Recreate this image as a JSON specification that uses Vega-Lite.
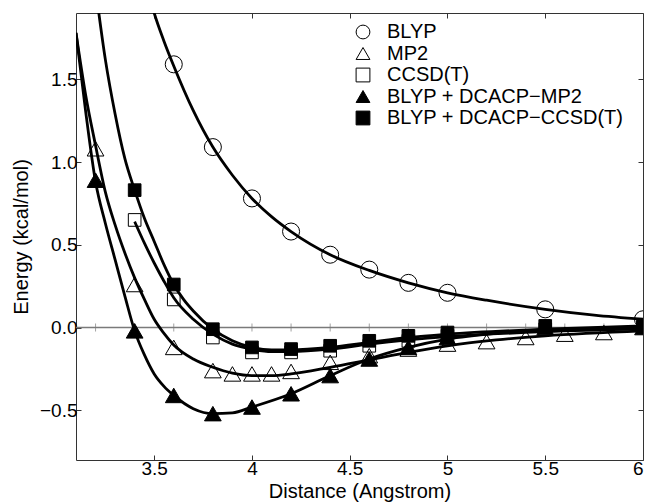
{
  "$schema": "https://vega.github.io/schema/vega-lite/v6.json",
  "width": 567,
  "height": 447,
  "autosize": {"type": "none"},
  "padding": {"left": 76, "top": 13, "right": 7, "bottom": 44},
  "background": "white",
  "config": {
    "font": "Liberation Sans",
    "view": {"stroke": "#333333", "strokeWidth": 1},
    "axis": {"grid": false, "domain": false, "tickColor": "#333333", "labelColor": "black", "titleColor": "black", "labelFontSize": 19, "titleFontSize": 20, "titleFontWeight": "normal"}
  },
  "datasets": {
    "markers": [
      {"series": "BLYP", "d": 3.6, "E": 1.59}, {"series": "BLYP", "d": 3.8, "E": 1.09}, {"series": "BLYP", "d": 4.0, "E": 0.78}, {"series": "BLYP", "d": 4.2, "E": 0.58}, {"series": "BLYP", "d": 4.4, "E": 0.44}, {"series": "BLYP", "d": 4.6, "E": 0.35}, {"series": "BLYP", "d": 4.8, "E": 0.27}, {"series": "BLYP", "d": 5.0, "E": 0.21}, {"series": "BLYP", "d": 5.5, "E": 0.11}, {"series": "BLYP", "d": 6.0, "E": 0.05},
      {"series": "MP2", "d": 3.2, "E": 1.08}, {"series": "MP2", "d": 3.4, "E": 0.26}, {"series": "MP2", "d": 3.6, "E": -0.12}, {"series": "MP2", "d": 3.8, "E": -0.26}, {"series": "MP2", "d": 3.9, "E": -0.28}, {"series": "MP2", "d": 4.0, "E": -0.28}, {"series": "MP2", "d": 4.1, "E": -0.28}, {"series": "MP2", "d": 4.2, "E": -0.265}, {"series": "MP2", "d": 4.4, "E": -0.21}, {"series": "MP2", "d": 4.6, "E": -0.17}, {"series": "MP2", "d": 4.8, "E": -0.13}, {"series": "MP2", "d": 5.0, "E": -0.1}, {"series": "MP2", "d": 5.2, "E": -0.085}, {"series": "MP2", "d": 5.4, "E": -0.06}, {"series": "MP2", "d": 5.6, "E": -0.04}, {"series": "MP2", "d": 5.8, "E": -0.03},
      {"series": "CCSD(T)", "d": 3.4, "E": 0.65}, {"series": "CCSD(T)", "d": 3.6, "E": 0.17}, {"series": "CCSD(T)", "d": 3.8, "E": -0.06}, {"series": "CCSD(T)", "d": 4.0, "E": -0.15}, {"series": "CCSD(T)", "d": 4.2, "E": -0.15}, {"series": "CCSD(T)", "d": 4.4, "E": -0.14}, {"series": "CCSD(T)", "d": 4.6, "E": -0.11}, {"series": "CCSD(T)", "d": 4.8, "E": -0.08}, {"series": "CCSD(T)", "d": 5.0, "E": -0.05}, {"series": "CCSD(T)", "d": 5.5, "E": -0.01}, {"series": "CCSD(T)", "d": 6.0, "E": 0.0},
      {"series": "BLYP + DCACP−MP2", "d": 3.2, "E": 0.89}, {"series": "BLYP + DCACP−MP2", "d": 3.4, "E": -0.02}, {"series": "BLYP + DCACP−MP2", "d": 3.6, "E": -0.41}, {"series": "BLYP + DCACP−MP2", "d": 3.8, "E": -0.52}, {"series": "BLYP + DCACP−MP2", "d": 4.0, "E": -0.48}, {"series": "BLYP + DCACP−MP2", "d": 4.2, "E": -0.4}, {"series": "BLYP + DCACP−MP2", "d": 4.4, "E": -0.29}, {"series": "BLYP + DCACP−MP2", "d": 4.6, "E": -0.19}, {"series": "BLYP + DCACP−MP2", "d": 4.8, "E": -0.12}, {"series": "BLYP + DCACP−MP2", "d": 5.0, "E": -0.06}, {"series": "BLYP + DCACP−MP2", "d": 5.5, "E": 0.0}, {"series": "BLYP + DCACP−MP2", "d": 6.0, "E": 0.0},
      {"series": "BLYP + DCACP−CCSD(T)", "d": 3.4, "E": 0.83}, {"series": "BLYP + DCACP−CCSD(T)", "d": 3.6, "E": 0.26}, {"series": "BLYP + DCACP−CCSD(T)", "d": 3.8, "E": -0.01}, {"series": "BLYP + DCACP−CCSD(T)", "d": 4.0, "E": -0.12}, {"series": "BLYP + DCACP−CCSD(T)", "d": 4.2, "E": -0.13}, {"series": "BLYP + DCACP−CCSD(T)", "d": 4.4, "E": -0.11}, {"series": "BLYP + DCACP−CCSD(T)", "d": 4.6, "E": -0.08}, {"series": "BLYP + DCACP−CCSD(T)", "d": 4.8, "E": -0.05}, {"series": "BLYP + DCACP−CCSD(T)", "d": 5.0, "E": -0.03}, {"series": "BLYP + DCACP−CCSD(T)", "d": 5.5, "E": 0.01}, {"series": "BLYP + DCACP−CCSD(T)", "d": 6.0, "E": 0.01}
    ],
    "curves": [
      {"series": "BLYP", "d": 3.45, "E": 2.12}, {"series": "BLYP", "d": 3.5, "E": 1.9}, {"series": "BLYP", "d": 3.55, "E": 1.73}, {"series": "BLYP", "d": 3.6, "E": 1.58}, {"series": "BLYP", "d": 3.7, "E": 1.31}, {"series": "BLYP", "d": 3.8, "E": 1.09}, {"series": "BLYP", "d": 3.9, "E": 0.92}, {"series": "BLYP", "d": 4.0, "E": 0.78}, {"series": "BLYP", "d": 4.1, "E": 0.67}, {"series": "BLYP", "d": 4.2, "E": 0.58}, {"series": "BLYP", "d": 4.4, "E": 0.44}, {"series": "BLYP", "d": 4.6, "E": 0.345}, {"series": "BLYP", "d": 4.8, "E": 0.27}, {"series": "BLYP", "d": 5.0, "E": 0.21}, {"series": "BLYP", "d": 5.2, "E": 0.165}, {"series": "BLYP", "d": 5.5, "E": 0.11}, {"series": "BLYP", "d": 5.75, "E": 0.075}, {"series": "BLYP", "d": 6.0, "E": 0.05},
      {"series": "MP2", "d": 3.1, "E": 1.78}, {"series": "MP2", "d": 3.15, "E": 1.4}, {"series": "MP2", "d": 3.2, "E": 1.1}, {"series": "MP2", "d": 3.25, "E": 0.82}, {"series": "MP2", "d": 3.3, "E": 0.62}, {"series": "MP2", "d": 3.35, "E": 0.45}, {"series": "MP2", "d": 3.4, "E": 0.3}, {"series": "MP2", "d": 3.45, "E": 0.17}, {"series": "MP2", "d": 3.5, "E": 0.05}, {"series": "MP2", "d": 3.55, "E": -0.035}, {"series": "MP2", "d": 3.6, "E": -0.105}, {"series": "MP2", "d": 3.7, "E": -0.19}, {"series": "MP2", "d": 3.8, "E": -0.24}, {"series": "MP2", "d": 3.9, "E": -0.275}, {"series": "MP2", "d": 4.0, "E": -0.29}, {"series": "MP2", "d": 4.1, "E": -0.29}, {"series": "MP2", "d": 4.2, "E": -0.28}, {"series": "MP2", "d": 4.4, "E": -0.24}, {"series": "MP2", "d": 4.6, "E": -0.195}, {"series": "MP2", "d": 4.8, "E": -0.15}, {"series": "MP2", "d": 5.0, "E": -0.11}, {"series": "MP2", "d": 5.25, "E": -0.075}, {"series": "MP2", "d": 5.5, "E": -0.05}, {"series": "MP2", "d": 6.0, "E": -0.02},
      {"series": "CCSD(T)", "d": 3.4, "E": 0.64}, {"series": "CCSD(T)", "d": 3.45, "E": 0.51}, {"series": "CCSD(T)", "d": 3.5, "E": 0.39}, {"series": "CCSD(T)", "d": 3.55, "E": 0.28}, {"series": "CCSD(T)", "d": 3.6, "E": 0.18}, {"series": "CCSD(T)", "d": 3.7, "E": 0.05}, {"series": "CCSD(T)", "d": 3.8, "E": -0.04}, {"series": "CCSD(T)", "d": 3.9, "E": -0.1}, {"series": "CCSD(T)", "d": 4.0, "E": -0.13}, {"series": "CCSD(T)", "d": 4.1, "E": -0.145}, {"series": "CCSD(T)", "d": 4.2, "E": -0.145}, {"series": "CCSD(T)", "d": 4.4, "E": -0.13}, {"series": "CCSD(T)", "d": 4.6, "E": -0.1}, {"series": "CCSD(T)", "d": 4.8, "E": -0.075}, {"series": "CCSD(T)", "d": 5.0, "E": -0.055}, {"series": "CCSD(T)", "d": 5.5, "E": -0.025}, {"series": "CCSD(T)", "d": 6.0, "E": -0.01},
      {"series": "BLYP + DCACP−MP2", "d": 3.1, "E": 1.78}, {"series": "BLYP + DCACP−MP2", "d": 3.15, "E": 1.3}, {"series": "BLYP + DCACP−MP2", "d": 3.2, "E": 0.88}, {"series": "BLYP + DCACP−MP2", "d": 3.25, "E": 0.63}, {"series": "BLYP + DCACP−MP2", "d": 3.3, "E": 0.41}, {"series": "BLYP + DCACP−MP2", "d": 3.35, "E": 0.19}, {"series": "BLYP + DCACP−MP2", "d": 3.4, "E": -0.02}, {"series": "BLYP + DCACP−MP2", "d": 3.45, "E": -0.165}, {"series": "BLYP + DCACP−MP2", "d": 3.5, "E": -0.28}, {"series": "BLYP + DCACP−MP2", "d": 3.55, "E": -0.355}, {"series": "BLYP + DCACP−MP2", "d": 3.6, "E": -0.41}, {"series": "BLYP + DCACP−MP2", "d": 3.7, "E": -0.49}, {"series": "BLYP + DCACP−MP2", "d": 3.8, "E": -0.52}, {"series": "BLYP + DCACP−MP2", "d": 3.9, "E": -0.515}, {"series": "BLYP + DCACP−MP2", "d": 4.0, "E": -0.48}, {"series": "BLYP + DCACP−MP2", "d": 4.2, "E": -0.4}, {"series": "BLYP + DCACP−MP2", "d": 4.4, "E": -0.29}, {"series": "BLYP + DCACP−MP2", "d": 4.6, "E": -0.19}, {"series": "BLYP + DCACP−MP2", "d": 4.8, "E": -0.12}, {"series": "BLYP + DCACP−MP2", "d": 5.0, "E": -0.07}, {"series": "BLYP + DCACP−MP2", "d": 5.25, "E": -0.035}, {"series": "BLYP + DCACP−MP2", "d": 5.5, "E": -0.015}, {"series": "BLYP + DCACP−MP2", "d": 6.0, "E": 0.0},
      {"series": "BLYP + DCACP−CCSD(T)", "d": 3.2, "E": 2.05}, {"series": "BLYP + DCACP−CCSD(T)", "d": 3.25, "E": 1.62}, {"series": "BLYP + DCACP−CCSD(T)", "d": 3.3, "E": 1.29}, {"series": "BLYP + DCACP−CCSD(T)", "d": 3.35, "E": 1.02}, {"series": "BLYP + DCACP−CCSD(T)", "d": 3.4, "E": 0.83}, {"series": "BLYP + DCACP−CCSD(T)", "d": 3.45, "E": 0.66}, {"series": "BLYP + DCACP−CCSD(T)", "d": 3.5, "E": 0.52}, {"series": "BLYP + DCACP−CCSD(T)", "d": 3.55, "E": 0.38}, {"series": "BLYP + DCACP−CCSD(T)", "d": 3.6, "E": 0.26}, {"series": "BLYP + DCACP−CCSD(T)", "d": 3.65, "E": 0.17}, {"series": "BLYP + DCACP−CCSD(T)", "d": 3.7, "E": 0.1}, {"series": "BLYP + DCACP−CCSD(T)", "d": 3.8, "E": -0.01}, {"series": "BLYP + DCACP−CCSD(T)", "d": 3.9, "E": -0.08}, {"series": "BLYP + DCACP−CCSD(T)", "d": 4.0, "E": -0.12}, {"series": "BLYP + DCACP−CCSD(T)", "d": 4.1, "E": -0.135}, {"series": "BLYP + DCACP−CCSD(T)", "d": 4.2, "E": -0.135}, {"series": "BLYP + DCACP−CCSD(T)", "d": 4.4, "E": -0.12}, {"series": "BLYP + DCACP−CCSD(T)", "d": 4.6, "E": -0.09}, {"series": "BLYP + DCACP−CCSD(T)", "d": 4.8, "E": -0.06}, {"series": "BLYP + DCACP−CCSD(T)", "d": 5.0, "E": -0.04}, {"series": "BLYP + DCACP−CCSD(T)", "d": 5.5, "E": -0.01}, {"series": "BLYP + DCACP−CCSD(T)", "d": 6.0, "E": 0.01}
    ],
    "zeroticks": [
      {"d": 3.2, "E": 0}, {"d": 3.4, "E": 0}, {"d": 3.6, "E": 0}, {"d": 3.8, "E": 0}, {"d": 4.0, "E": 0}, {"d": 4.2, "E": 0}, {"d": 4.4, "E": 0}, {"d": 4.6, "E": 0}, {"d": 4.8, "E": 0}, {"d": 5.0, "E": 0}, {"d": 5.2, "E": 0}, {"d": 5.4, "E": 0}, {"d": 5.6, "E": 0}, {"d": 5.8, "E": 0}
    ]
  },
  "resolve": {"axis": {"x": "independent", "y": "independent"}},
  "layer": [
    {
      "data": {"values": [{"E": 0}]},
      "mark": {"type": "rule", "color": "#7a7a7a", "strokeWidth": 1.5},
      "encoding": {
        "y": {"field": "E", "type": "quantitative", "scale": {"domain": [-0.8, 1.9], "nice": false, "zero": false}, "axis": null}
      }
    },
    {
      "data": {"name": "zeroticks"},
      "mark": {"type": "tick", "orient": "vertical", "color": "#7a7a7a", "size": 8, "thickness": 1},
      "encoding": {
        "x": {"field": "d", "type": "quantitative", "scale": {"domain": [3.1, 6.0], "nice": false, "zero": false},
              "axis": {"orient": "top", "labels": false, "title": null, "values": [3.5, 4, 4.5, 5, 5.5, 6], "tickSize": -5}},
        "y": {"field": "E", "type": "quantitative", "scale": {"domain": [-0.8, 1.9], "nice": false, "zero": false},
              "axis": {"orient": "right", "labels": false, "title": null, "values": [-0.5, 0, 0.5, 1, 1.5], "tickSize": -5}}
      }
    },
    {
      "data": {"name": "curves"},
      "mark": {"type": "line", "color": "black", "strokeWidth": 2.8, "interpolate": "monotone", "clip": true},
      "encoding": {
        "x": {"field": "d", "type": "quantitative", "scale": {"domain": [3.1, 6.0], "nice": false, "zero": false},
              "axis": {"orient": "bottom", "title": "Distance (Angstrom)", "values": [3.5, 4, 4.5, 5, 5.5, 6], "format": "~g", "tickSize": -5, "labelPadding": 4, "titlePadding": 3}},
        "y": {"field": "E", "type": "quantitative", "scale": {"domain": [-0.8, 1.9], "nice": false, "zero": false},
              "axis": {"orient": "left", "title": "Energy (kcal/mol)", "values": [-0.5, 0, 0.5, 1, 1.5], "format": ".1f", "tickSize": -5, "labelPadding": 4, "titlePadding": 8}},
        "detail": {"field": "series"}
      }
    },
    {
      "data": {"name": "markers"},
      "transform": [{"filter": {"field": "series", "oneOf": ["BLYP"]}}],
      "mark": {"type": "point", "filled": true, "stroke": "black", "strokeWidth": 1, "opacity": 1, "size": 290, "clip": true},
      "encoding": {
        "x": {"field": "d", "type": "quantitative", "axis": null},
        "y": {"field": "E", "type": "quantitative", "axis": null},
        "shape": {"field": "series", "type": "nominal", "scale": {"domain": ["BLYP", "MP2", "CCSD(T)", "BLYP + DCACP−MP2", "BLYP + DCACP−CCSD(T)"], "range": ["circle", "triangle-up", "square", "triangle-up", "square"]}, "title": null},
        "fill": {"field": "series", "type": "nominal", "scale": {"domain": ["BLYP", "MP2", "CCSD(T)", "BLYP + DCACP−MP2", "BLYP + DCACP−CCSD(T)"], "range": ["transparent", "transparent", "transparent", "black", "black"]}, "title": null,
                 "legend": {"orient": "none", "legendX": 277, "legendY": 9, "symbolSize": 190, "symbolStrokeColor": "black", "symbolStrokeWidth": 1, "labelFontSize": 20, "labelColor": "black", "labelOffset": 14, "rowPadding": 1.5, "labelLimit": 400}}
      }
    },
    {
      "data": {"name": "markers"},
      "transform": [{"filter": {"field": "series", "oneOf": ["MP2", "BLYP + DCACP−MP2"]}}],
      "mark": {"type": "point", "filled": true, "stroke": "black", "strokeWidth": 1, "opacity": 1, "size": 280, "clip": true},
      "encoding": {
        "x": {"field": "d", "type": "quantitative", "axis": null},
        "y": {"field": "E", "type": "quantitative", "axis": null},
        "shape": {"field": "series", "type": "nominal", "title": null},
        "fill": {"field": "series", "type": "nominal", "title": null}
      }
    },
    {
      "data": {"name": "markers"},
      "transform": [{"filter": {"field": "series", "oneOf": ["CCSD(T)", "BLYP + DCACP−CCSD(T)"]}}],
      "mark": {"type": "point", "filled": true, "stroke": "black", "strokeWidth": 1, "opacity": 1, "size": 160, "clip": true},
      "encoding": {
        "x": {"field": "d", "type": "quantitative", "axis": null},
        "y": {"field": "E", "type": "quantitative", "axis": null},
        "shape": {"field": "series", "type": "nominal", "title": null},
        "fill": {"field": "series", "type": "nominal", "title": null}
      }
    }
  ]
}
